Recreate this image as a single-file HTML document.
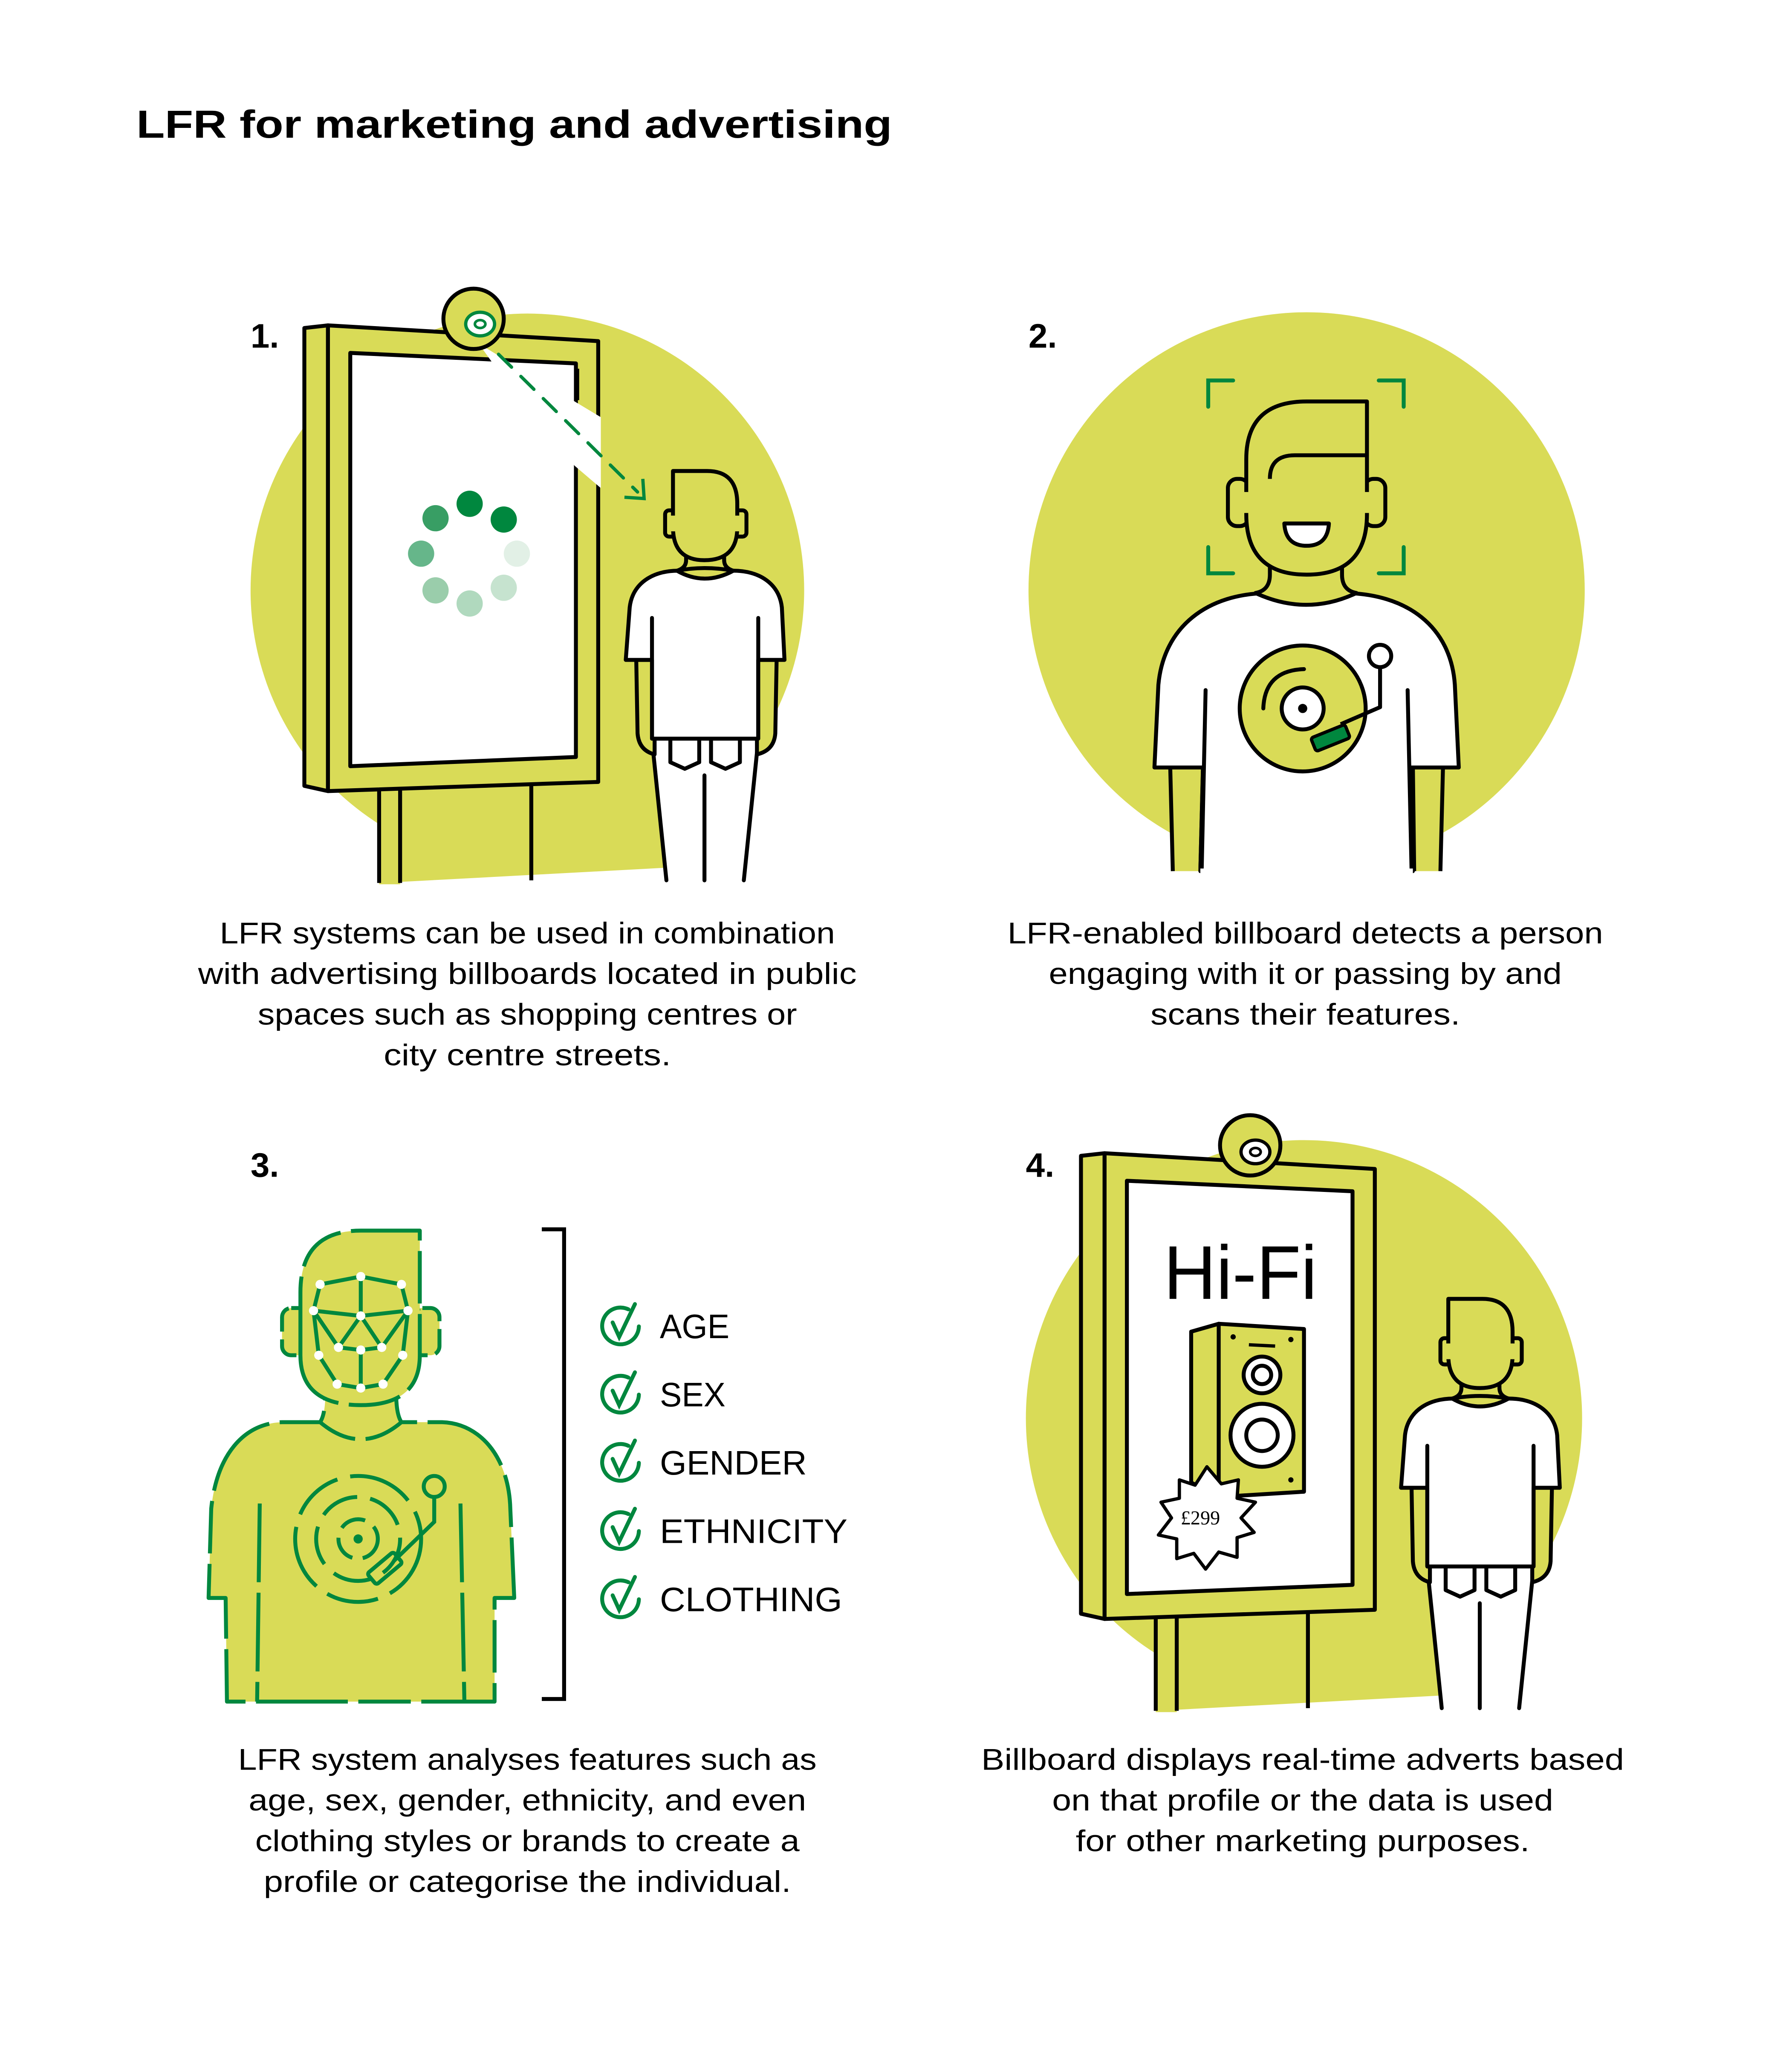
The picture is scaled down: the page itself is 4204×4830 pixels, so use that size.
<!DOCTYPE html>
<html><head><meta charset="utf-8"><style>
html,body{margin:0;padding:0;background:#fff;}
svg{display:block;}
text{font-family:"Liberation Sans",sans-serif;}
</style></head><body>
<svg width="4204" height="4830" viewBox="0 0 1366 1569.4" xmlns="http://www.w3.org/2000/svg">
<defs>
<g id="bb">
  <polygon points="824,881 842,879 842,1234 824,1230" fill="#d9db57" stroke="#000" stroke-width="3" stroke-linejoin="round"/>
  <rect x="881" y="1225" width="16" height="80" fill="#d9db57"/>
  <line x1="881" y1="1225" x2="881" y2="1304" stroke="#000" stroke-width="3"/>
  <line x1="897" y1="1225" x2="897" y2="1304" stroke="#000" stroke-width="3"/>
  <line x1="997" y1="1225" x2="997" y2="1302" stroke="#000" stroke-width="3"/>
  <polygon points="842,879 1048,891 1048,1227 842,1234" fill="#d9db57" stroke="#000" stroke-width="3" stroke-linejoin="round"/>
  <polygon points="859,900 1031,908 1031,1208 859,1215" fill="#fff" stroke="#000" stroke-width="3" stroke-linejoin="round"/>
</g>
<g id="person">
  <path d="M1088,1195 L1099,1302 L1158,1302 L1169,1195 Z" fill="#fff"/>
  <path d="M1088,1195 L1099,1302 M1169,1195 L1158,1302 M1128,1222 L1128,1302" stroke="#000" stroke-width="3" fill="none" stroke-linecap="round"/>
  <path d="M1102,1195 L1102,1212 L1113,1217 L1124,1212 L1124,1195 M1133,1195 L1133,1212 L1144,1217 L1155,1212 L1155,1195" stroke="#000" stroke-width="3" fill="none" stroke-linejoin="round"/>
  <path d="M1076,1134 L1077,1190 Q1078,1203 1090,1206 L1090,1134 Z M1183,1134 L1182,1190 Q1181,1203 1168,1206 L1168,1134 Z" fill="#d9db57" stroke="#000" stroke-width="3" stroke-linejoin="round"/>
  <path d="M1068,1134 L1071,1094 C1073,1076 1088,1066 1108,1066 L1150,1066 C1170,1066 1185,1076 1187,1094 L1189,1134 L1169,1134 L1169,1194 L1088,1194 L1088,1134 Z" fill="#fff" stroke="#000" stroke-width="3" stroke-linejoin="round"/>
  <path d="M1088,1102 L1088,1194 M1169,1102 L1169,1194" stroke="#000" stroke-width="3" fill="none" stroke-linecap="round"/>
  <path d="M1114,1050 L1114,1058 Q1114,1064 1107,1066 M1143,1050 L1143,1058 Q1143,1064 1150,1066" stroke="#000" stroke-width="3" fill="#d9db57"/>
  <path d="M1107,1066 Q1128,1078 1150,1066 Q1128,1062 1107,1066 Z" fill="#d9db57" stroke="#000" stroke-width="3"/>
  <rect x="1098" y="1020" width="12" height="20" rx="3" fill="#d9db57" stroke="#000" stroke-width="3"/>
  <rect x="1148" y="1020" width="12" height="20" rx="3" fill="#d9db57" stroke="#000" stroke-width="3"/>
  <path d="M1104,990 L1130,990 Q1153,990 1153,1015 L1153,1033 Q1153,1058 1128,1058 Q1104,1058 1104,1033 Z" fill="#d9db57" stroke="#000" stroke-width="3" stroke-linejoin="round"/>
  <path d="M1104,1024 L1104,1036 M1153,1024 L1153,1036" stroke="#d9db57" stroke-width="4"/>
</g>
</defs>

<text x="104" y="105" font-size="30" font-weight="bold" fill="#000" textLength="576" lengthAdjust="spacingAndGlyphs">LFR for marketing and advertising</text>

<!-- ===== Panel 1 ===== -->
<circle cx="402" cy="450" r="211" fill="#d9db57"/>
<polygon points="290,630 515,630 515,661 290,673" fill="#d9db57"/>
<text x="191" y="265" font-size="26" font-weight="bold">1.</text>
<g transform="translate(-592,-631)"><use href="#bb"/></g>
<polygon points="365,262 458,318 458,372 438,355 375,276" fill="#fff"/>
<line x1="440" y1="281" x2="440" y2="305" stroke="#000" stroke-width="3"/>
<circle cx="361" cy="243" r="23" fill="#d9db57" stroke="#000" stroke-width="3"/>
<ellipse cx="366" cy="247" rx="11" ry="9" fill="#fff" stroke="#00873e" stroke-width="2.5"/>
<ellipse cx="366" cy="247" rx="4" ry="3" fill="#fff" stroke="#00873e" stroke-width="2"/>
<line x1="380" y1="270" x2="486" y2="375" stroke="#00873e" stroke-width="2.5" stroke-dasharray="14,10" stroke-linecap="round"/>
<polyline points="476,379 491,380 490,365" fill="none" stroke="#00873e" stroke-width="2.5"/>
<circle cx="358" cy="384" r="10" fill="#00873e"/>
<circle cx="384" cy="396" r="10" fill="#00873e"/>
<circle cx="394" cy="422" r="10" fill="#e2f0e6"/>
<circle cx="384" cy="448" r="10" fill="#c6e3cf"/>
<circle cx="358" cy="460" r="10" fill="#b0d9be"/>
<circle cx="332" cy="450" r="10" fill="#9acdab"/>
<circle cx="321" cy="422" r="10" fill="#66b68a"/>
<circle cx="332" cy="395" r="10" fill="#389e64"/>
<g transform="translate(-591,-631)"><use href="#person"/></g>

<g font-size="23" fill="#000" text-anchor="middle" lengthAdjust="spacingAndGlyphs">
<text x="402" y="719" textLength="469" lengthAdjust="spacingAndGlyphs">LFR systems can be used in combination</text>
<text x="402" y="750" textLength="502" lengthAdjust="spacingAndGlyphs">with advertising billboards located in public</text>
<text x="402" y="781" textLength="411" lengthAdjust="spacingAndGlyphs">spaces such as shopping centres or</text>
<text x="402" y="812" textLength="219" lengthAdjust="spacingAndGlyphs">city centre streets.</text>
<text x="995" y="719" textLength="454" lengthAdjust="spacingAndGlyphs">LFR-enabled billboard detects a person</text>
<text x="995" y="750" textLength="391" lengthAdjust="spacingAndGlyphs">engaging with it or passing by and</text>
<text x="995" y="781" textLength="236" lengthAdjust="spacingAndGlyphs">scans their features.</text>
<text x="402" y="1349" textLength="441" lengthAdjust="spacingAndGlyphs">LFR system analyses features such as</text>
<text x="402" y="1380" textLength="425" lengthAdjust="spacingAndGlyphs">age, sex, gender, ethnicity, and even</text>
<text x="402" y="1411" textLength="415" lengthAdjust="spacingAndGlyphs">clothing styles or brands to create a</text>
<text x="402" y="1442" textLength="402" lengthAdjust="spacingAndGlyphs">profile or categorise the individual.</text>
<text x="993" y="1349" textLength="490" lengthAdjust="spacingAndGlyphs">Billboard displays real-time adverts based</text>
<text x="993" y="1380" textLength="382" lengthAdjust="spacingAndGlyphs">on that profile or the data is used</text>
<text x="993" y="1411" textLength="346" lengthAdjust="spacingAndGlyphs">for other marketing purposes.</text>
</g>

<!-- ===== Panel 2 ===== -->
<circle cx="996" cy="450" r="212" fill="#d9db57"/>
<text x="784" y="265" font-size="26" font-weight="bold">2.</text>
<path d="M921,310 L921,290 L940,290 M1051,290 L1070,290 L1070,310 M921,417 L921,437 L940,437 M1051,437 L1070,437 L1070,417" fill="none" stroke="#00873e" stroke-width="3" stroke-linecap="round"/>
<path d="M892,583 L894,664 L915,664 L917,583 Z M1077,583 L1077,664 L1099,664 L1100,583 Z" fill="#d9db57"/>
<path d="M892,583 L894,664 M917,583 L915,664 M1077,583 L1078,664 M1100,583 L1098,664" stroke="#000" stroke-width="3"/>
<path d="M880,585 L883,522 C887,478 920,452 968,452 L1023,452 C1073,452 1106,478 1109,522 L1112,585 L1075,585 L1077,664 L915,664 L917,585 Z" fill="#fff" stroke="#000" stroke-width="3" stroke-linejoin="round"/>
<path d="M919,526 L916,664 M1073,526 L1076,664" stroke="#000" stroke-width="3" stroke-linecap="round"/>
<line x1="915" y1="664" x2="1077" y2="664" stroke="#fff" stroke-width="4"/>
<path d="M968,425 L968,438 Q968,450 957,452 Q996,470 1034,452 Q1023,450 1023,438 L1023,425 Z" fill="#d9db57" stroke="#000" stroke-width="3" stroke-linejoin="round"/>
<rect x="936" y="365" width="16" height="36" rx="7" fill="#d9db57" stroke="#000" stroke-width="3"/>
<rect x="1040" y="365" width="16" height="36" rx="7" fill="#d9db57" stroke="#000" stroke-width="3"/>
<path d="M950,365 L950,350 Q950,306 996,306 L1042,306 L1042,365 L1042,392 Q1042,438 996,438 Q950,438 950,392 Z" fill="#d9db57" stroke="#000" stroke-width="3" stroke-linejoin="round"/>
<path d="M950,375 L950,391 M1042,375 L1042,391" stroke="#d9db57" stroke-width="5"/>
<path d="M968,365 Q968,347 987,347 L1042,347" fill="none" stroke="#000" stroke-width="3"/>
<path d="M979,399 L1013,399 Q1012,416 996,416 Q980,416 979,399 Z" fill="#fff" stroke="#000" stroke-width="3" stroke-linejoin="round"/>
<circle cx="993" cy="540" r="48" fill="#d9db57" stroke="#000" stroke-width="3"/>
<path d="M963,540 Q964,511 994,510" fill="none" stroke="#000" stroke-width="3" stroke-linecap="round"/>
<circle cx="993" cy="540" r="16" fill="#fff" stroke="#000" stroke-width="3"/>
<circle cx="993" cy="540" r="3.5" fill="#000"/>
<path d="M1052,508 L1052,539 L1022,552" fill="none" stroke="#000" stroke-width="3" stroke-linejoin="round"/>
<circle cx="1052" cy="500" r="8.5" fill="#fff" stroke="#000" stroke-width="3"/>
<rect x="1000" y="557" width="28" height="11" rx="2" transform="rotate(-22 1014 562)" fill="#00873e" stroke="#000" stroke-width="2.5"/>

<!-- ===== Panel 3 ===== -->
<text x="191" y="897" font-size="26" font-weight="bold">3.</text>
<g stroke="#00873e" stroke-width="3" fill="#d9db57" stroke-linejoin="round">
  <path d="M173,1297 L172,1218 L159,1218 L161,1150 C165,1110 185,1085 215,1084 L244,1084 Q248,1078 248,1062 L248,1050 L302,1050 L302,1062 Q302,1078 306,1084 L337,1084 C367,1085 388,1112 389,1150 L392,1218 L377,1218 L377,1297 Z" stroke-dasharray="40,8,70,8"/>
  <rect x="215" y="997" width="20" height="36" rx="7" stroke-dasharray="20,6"/>
  <rect x="315" y="997" width="20" height="36" rx="7" stroke-dasharray="20,6"/>
  <path d="M229,1033 L229,985 Q229,938 275,938 L320,938 L320,1033 Q320,1071 275,1071 Q229,1071 229,1033 Z" stroke-dasharray="60,8,40,8"/>
</g>
<path d="M244,1084 Q275,1110 306,1084" fill="none" stroke="#00873e" stroke-width="3" stroke-dasharray="30,8"/>
<path d="M198,1146 L196,1297 M351,1146 L354,1297" stroke="#00873e" stroke-width="3" stroke-dasharray="60,8"/>
<circle cx="273" cy="1173" r="48" fill="none" stroke="#00873e" stroke-width="3" stroke-dasharray="50,10,40,10"/>
<circle cx="273" cy="1173" r="32" fill="none" stroke="#00873e" stroke-width="3" stroke-dasharray="30,10"/>
<circle cx="273" cy="1173" r="15" fill="none" stroke="#00873e" stroke-width="3" stroke-dasharray="20,8"/>
<circle cx="273" cy="1173" r="3.5" fill="#00873e"/>
<circle cx="331" cy="1133" r="8" fill="none" stroke="#00873e" stroke-width="3"/>
<path d="M331,1141 L331,1160 L300,1190" fill="none" stroke="#00873e" stroke-width="3"/>
<rect x="280" y="1190" width="26" height="11" rx="2" transform="rotate(-40 293 1195)" fill="none" stroke="#00873e" stroke-width="3"/>
<g stroke="#00873e" stroke-width="3" fill="none">
  <path d="M275,973 L244,979 L239,999 L243,1033 L257,1055 L275,1058 L292,1055 L307,1033 L311,999 L306,979 Z"/>
  <path d="M275,973 L275,1003 M239,999 L275,1003 L311,999 M239,999 L258,1027 L275,1003 L291,1027 L311,999 M258,1027 L275,1029 L291,1027 M275,1029 L275,1058"/>
</g>
<g fill="#fff">
  <circle cx="275" cy="973" r="3.5"/><circle cx="244" cy="979" r="3.5"/><circle cx="306" cy="979" r="3.5"/>
  <circle cx="239" cy="999" r="3.5"/><circle cx="311" cy="999" r="3.5"/><circle cx="275" cy="1003" r="3.5"/>
  <circle cx="258" cy="1027" r="3.5"/><circle cx="275" cy="1029" r="3.5"/><circle cx="291" cy="1027" r="3.5"/>
  <circle cx="243" cy="1033" r="3.5"/><circle cx="307" cy="1033" r="3.5"/>
  <circle cx="257" cy="1055" r="3.5"/><circle cx="292" cy="1055" r="3.5"/><circle cx="275" cy="1058" r="3.5"/>
</g>
<path d="M413,937 L430,937 L430,1295 L413,1295" fill="none" stroke="#000" stroke-width="3"/>
<g fill="none" stroke="#00873e" stroke-width="3" stroke-linecap="round">
  <g transform="translate(473,1011)"><path d="M6,-13 A14,14 0 1 0 14,0"/><path d="M-6,-3 L-1,8 L11,-17"/></g>
  <g transform="translate(473,1063)"><path d="M6,-13 A14,14 0 1 0 14,0"/><path d="M-6,-3 L-1,8 L11,-17"/></g>
  <g transform="translate(473,1115)"><path d="M6,-13 A14,14 0 1 0 14,0"/><path d="M-6,-3 L-1,8 L11,-17"/></g>
  <g transform="translate(473,1167)"><path d="M6,-13 A14,14 0 1 0 14,0"/><path d="M-6,-3 L-1,8 L11,-17"/></g>
  <g transform="translate(473,1219)"><path d="M6,-13 A14,14 0 1 0 14,0"/><path d="M-6,-3 L-1,8 L11,-17"/></g>
</g>
<g font-size="26" fill="#000">
<text x="503" y="1020" textLength="53" lengthAdjust="spacingAndGlyphs">AGE</text>
<text x="503" y="1072" textLength="50" lengthAdjust="spacingAndGlyphs">SEX</text>
<text x="503" y="1124" textLength="112" lengthAdjust="spacingAndGlyphs">GENDER</text>
<text x="503" y="1176" textLength="143" lengthAdjust="spacingAndGlyphs">ETHNICITY</text>
<text x="503" y="1228" textLength="139" lengthAdjust="spacingAndGlyphs">CLOTHING</text>
</g>

<!-- ===== Panel 4 ===== -->
<circle cx="994" cy="1081" r="212" fill="#d9db57"/>
<polygon points="882,1262 1105,1262 1105,1292 882,1304" fill="#d9db57"/>
<text x="782" y="897" font-size="26" font-weight="bold">4.</text>
<use href="#bb"/>
<circle cx="953" cy="873" r="23" fill="#d9db57" stroke="#000" stroke-width="3"/>
<ellipse cx="957" cy="878" rx="11" ry="9" fill="#fff" stroke="#000" stroke-width="2.5"/>
<ellipse cx="957" cy="878" rx="4" ry="3" fill="#fff" stroke="#000" stroke-width="2"/>
<text x="887" y="990" font-size="58" textLength="117" lengthAdjust="spacingAndGlyphs" fill="#000">Hi-Fi</text>
<polygon points="908,1015 929,1009 929,1141 908,1130" fill="#d9db57" stroke="#000" stroke-width="3" stroke-linejoin="round"/>
<polygon points="929,1009 994,1013 994,1137 929,1141" fill="#d9db57" stroke="#000" stroke-width="3" stroke-linejoin="round"/>
<circle cx="940" cy="1019" r="2" fill="#000"/><circle cx="984" cy="1021" r="2" fill="#000"/><circle cx="984" cy="1128" r="2" fill="#000"/>
<line x1="952" y1="1025" x2="972" y2="1026" stroke="#000" stroke-width="2.5"/>
<circle cx="962" cy="1048" r="14" fill="#fff" stroke="#000" stroke-width="3"/>
<circle cx="962" cy="1048" r="7" fill="none" stroke="#000" stroke-width="3"/>
<circle cx="962" cy="1094" r="24" fill="#fff" stroke="#000" stroke-width="3"/>
<circle cx="962" cy="1094" r="12" fill="none" stroke="#000" stroke-width="3"/>
<polygon points="920,1118 931,1131 944,1128 943,1142 957,1145 946,1157 956,1168 943,1172 943,1187 929,1183 919,1196 910,1184 897,1188 897,1173 883,1170 893,1157 885,1145 899,1142 899,1128 911,1132" fill="#fff" stroke="#000" stroke-width="2.5" stroke-linejoin="round"/>
<text x="900" y="1162" font-size="15" fill="#000" style="font-family:'Liberation Serif',serif">£299</text>
<use href="#person"/>
</svg>
</body></html>
